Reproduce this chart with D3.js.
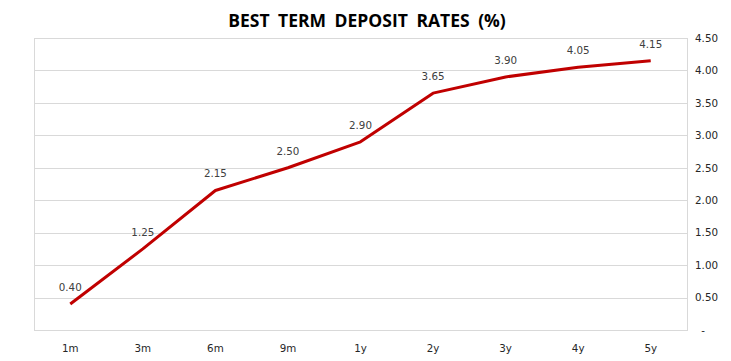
<!DOCTYPE html>
<html><head><meta charset="utf-8">
<script src="https://cdn.jsdelivr.net/npm/d3@7"></script>
<style>body{margin:0;background:#fff}</style>
</head><body>
<svg id="c" width="731" height="361"></svg>
<script>
const categories = ["1m","3m","6m","9m","1y","2y","3y","4y","5y"];
const rates = [0.40,1.25,2.15,2.50,2.90,3.65,3.90,4.05,4.15];
const yTicks = [0,0.5,1,1.5,2,2.5,3,3.5,4,4.5];
const title = "BEST TERM DEPOSIT RATES (%)";

const svg = d3.select("#c");
const m = {left:34, right:687, top:38, bottom:330};
const x = d3.scaleBand().domain(categories).range([m.left, m.right]);
const y = d3.scaleLinear().domain([0,4.5]).range([m.bottom, m.top]);
const F = "DejaVu Sans, Verdana, sans-serif";
const FS = "10.3px";

svg.append("g").selectAll("line").data(yTicks).join("line")
  .attr("x1", m.left).attr("x2", m.right)
  .attr("y1", d=>Math.round(y(d))+0.5).attr("y2", d=>Math.round(y(d))+0.5)
  .attr("stroke","#d9d9d9").attr("stroke-width",1);
svg.append("rect").attr("x", m.left+0.5).attr("y", Math.round(y(4.5))+0.5)
  .attr("width", m.right-m.left).attr("height", Math.round(y(0))-Math.round(y(4.5)))
  .attr("fill","none").attr("stroke","#d9d9d9");

const yAxis = d3.axisRight(y).tickValues(yTicks).tickSize(0)
  .tickFormat(d => d===0 ? "-" : d3.format(".2f")(d));
const ga = svg.append("g").attr("transform",`translate(${m.right},0)`).call(yAxis);
ga.select(".domain").remove();
ga.selectAll("text").attr("x", d => d===0 ? 16 : 31).attr("text-anchor", d=> d===0?"middle":"end")
  .attr("font-family",F).attr("font-size",FS).attr("fill","#262626");

const xAxis = d3.axisBottom(x).tickSize(0);
const gx = svg.append("g").attr("transform",`translate(0,${m.bottom})`).call(xAxis);
gx.select(".domain").remove();
gx.selectAll("text").attr("dy","0").attr("y", 22)
  .attr("font-family",F).attr("font-size",FS).attr("fill","#262626");

const line = d3.line().x((d,i)=>x(categories[i])+x.bandwidth()/2).y(d=>y(d));
svg.append("path").datum(rates).attr("d", line).attr("fill","none")
  .attr("stroke","#c00000").attr("stroke-width",3).attr("stroke-linejoin","round");

svg.append("g").selectAll("text").data(rates).join("text")
  .attr("x",(d,i)=>x(categories[i])+x.bandwidth()/2)
  .attr("y", d=>y(d)-13)
  .attr("text-anchor","middle")
  .attr("font-family",F).attr("font-size",FS).attr("fill","#404040")
  .text(d=>d3.format(".2f")(d));

svg.append("text").attr("x", 367).attr("y", 27).attr("text-anchor","middle")
  .attr("font-family","Open Sans, sans-serif").attr("font-weight","bold").attr("font-size","17.5px")
  .attr("word-spacing","4px")
  .attr("fill","#000").text(title);
</script>
</body></html>
